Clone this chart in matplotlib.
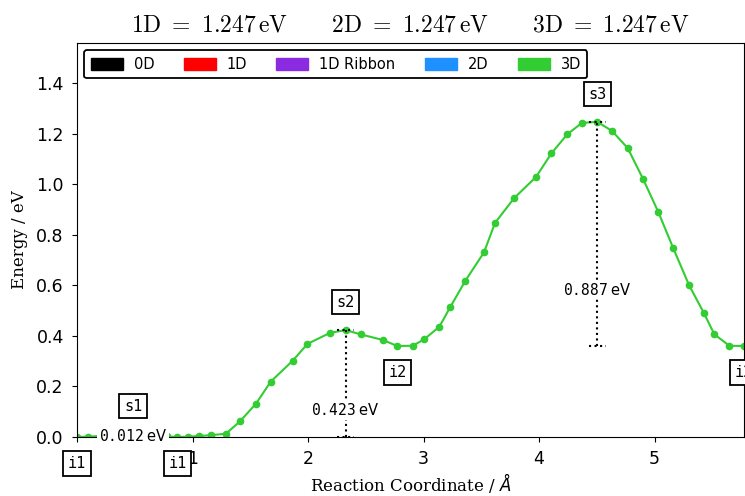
import matplotlib
matplotlib.use("Agg")
import matplotlib.pyplot as plt
from matplotlib.patches import Patch

# ---- data ----
coord = [0.0, 0.097, 0.195, 0.29, 0.39, 0.485, 0.58, 0.68, 0.78, 0.868, 0.964,
         1.059, 1.158, 1.29, 1.411, 1.55, 1.677, 1.868, 1.994, 2.19, 2.326,
         2.456, 2.647, 2.773, 2.906, 3.004, 3.137, 3.23, 3.362, 3.524, 3.619,
         3.784, 3.974, 4.107, 4.245, 4.372, 4.505, 4.632, 4.768, 4.903, 5.033,
         5.163, 5.299, 5.429, 5.518, 5.648, 5.775]
energy = [0.0, 0.001, 0.004, 0.008, 0.011, 0.012, 0.010, 0.006, 0.002, 0.0, 0.001,
          0.004, 0.007, 0.013, 0.062, 0.132, 0.219, 0.302, 0.368, 0.412, 0.423,
          0.406, 0.384, 0.360, 0.361, 0.386, 0.436, 0.513, 0.618, 0.731, 0.847,
          0.945, 1.029, 1.122, 1.198, 1.243, 1.247, 1.211, 1.143, 1.019, 0.890,
          0.746, 0.601, 0.489, 0.406, 0.361, 0.360]

legend_labels = ["0D", "1D", "1D Ribbon", "2D", "3D"]
legend_colors = ["black", "red", "blueviolet", "dodgerblue", "limegreen"]

title_labels = ["1D", "2D", "3D"]
title_values = [1.247, 1.247, 1.247]

# stationary-point labels
pt_names = ["i1", "s1", "i1", "s2", "i2", "s3", "i2"]
pt_x = [0.0, 0.485, 0.868, 2.326, 2.773, 4.505, 5.775]
pt_e = [0.0, 0.012, 0.0, 0.423, 0.360, 1.247, 0.360]

# barriers
bar_x = [0.485, 2.326, 4.505]
bar_top = [0.012, 0.423, 1.247]
bar_val = [0.012, 0.423, 0.887]

fig = plt.figure(figsize=(7.45, 4.96), dpi=100)
ax = fig.add_axes([0.1034, 0.119, 0.8953, 0.7943])

ax.plot(coord, energy, color="limegreen", marker="o", markersize=4.5,
        linewidth=1.5, zorder=2)

for n, x, e in zip(pt_names, pt_x, pt_e):
    off = 0.11 if n.startswith("s") else -0.105
    ax.text(x, e + off, n, ha="center", va="center", family="DejaVu Sans Mono",
            fontsize=11, zorder=6, clip_on=False,
            bbox=dict(boxstyle="square,pad=0.3", fc="white", ec="black", lw=1.3))

for x, top, val in zip(bar_x, bar_top, bar_val):
    bot = top - val
    ax.plot([x, x], [bot, top], color="black", linestyle=":", lw=1.5, zorder=3)
    ax.plot([x - 0.075, x + 0.075], [top, top], color="black", linestyle=":",
            lw=1.5, zorder=3)
    ax.plot([x - 0.075, x + 0.075], [bot, bot], color="black", linestyle=":",
            lw=1.5, zorder=3)
    ax.text(x, bot + 0.25 * val, r"$\mathtt{%.3f}\;\mathrm{eV}$" % val,
            ha="center", va="center", fontsize=10.5, zorder=4,
            bbox=dict(boxstyle="square,pad=0.1", fc="white", ec="none"))

ax.set_xlim(0, 5.775)
ax.set_ylim(0, 1.559)
ax.set_xticks([0, 1, 2, 3, 4, 5])
ax.set_yticks([0.0, 0.2, 0.4, 0.6, 0.8, 1.0, 1.2, 1.4])
ax.tick_params(labelsize=12.5, pad=6)

ax.set_xlabel(r"Reaction Coordinate / $\AA$", family="DejaVu Serif", fontsize=12,
              labelpad=2)
ax.set_ylabel("Energy / eV", family="DejaVu Serif", fontsize=12, labelpad=6)

title = "      ".join(r"$\mathrm{%s}\ =\ %.3f\,\mathrm{eV}$" % (l, v)
                     for l, v in zip(title_labels, title_values))
ax.set_title(title, fontsize=17, math_fontfamily="cm", pad=8)

handles = [Patch(facecolor=c, edgecolor=c, label=l)
           for c, l in zip(legend_colors, legend_labels)]
leg = ax.legend(handles=handles, loc="upper left", ncol=5, fontsize=10.5,
                handlelength=2.2, handleheight=0.9, handletextpad=0.75,
                columnspacing=2.0, framealpha=1, fancybox=True,
                borderaxespad=0.5, borderpad=0.45)
leg.get_frame().set_edgecolor("black")
leg.get_frame().set_linewidth(1.3)

fig.savefig("out.png", dpi=100)
